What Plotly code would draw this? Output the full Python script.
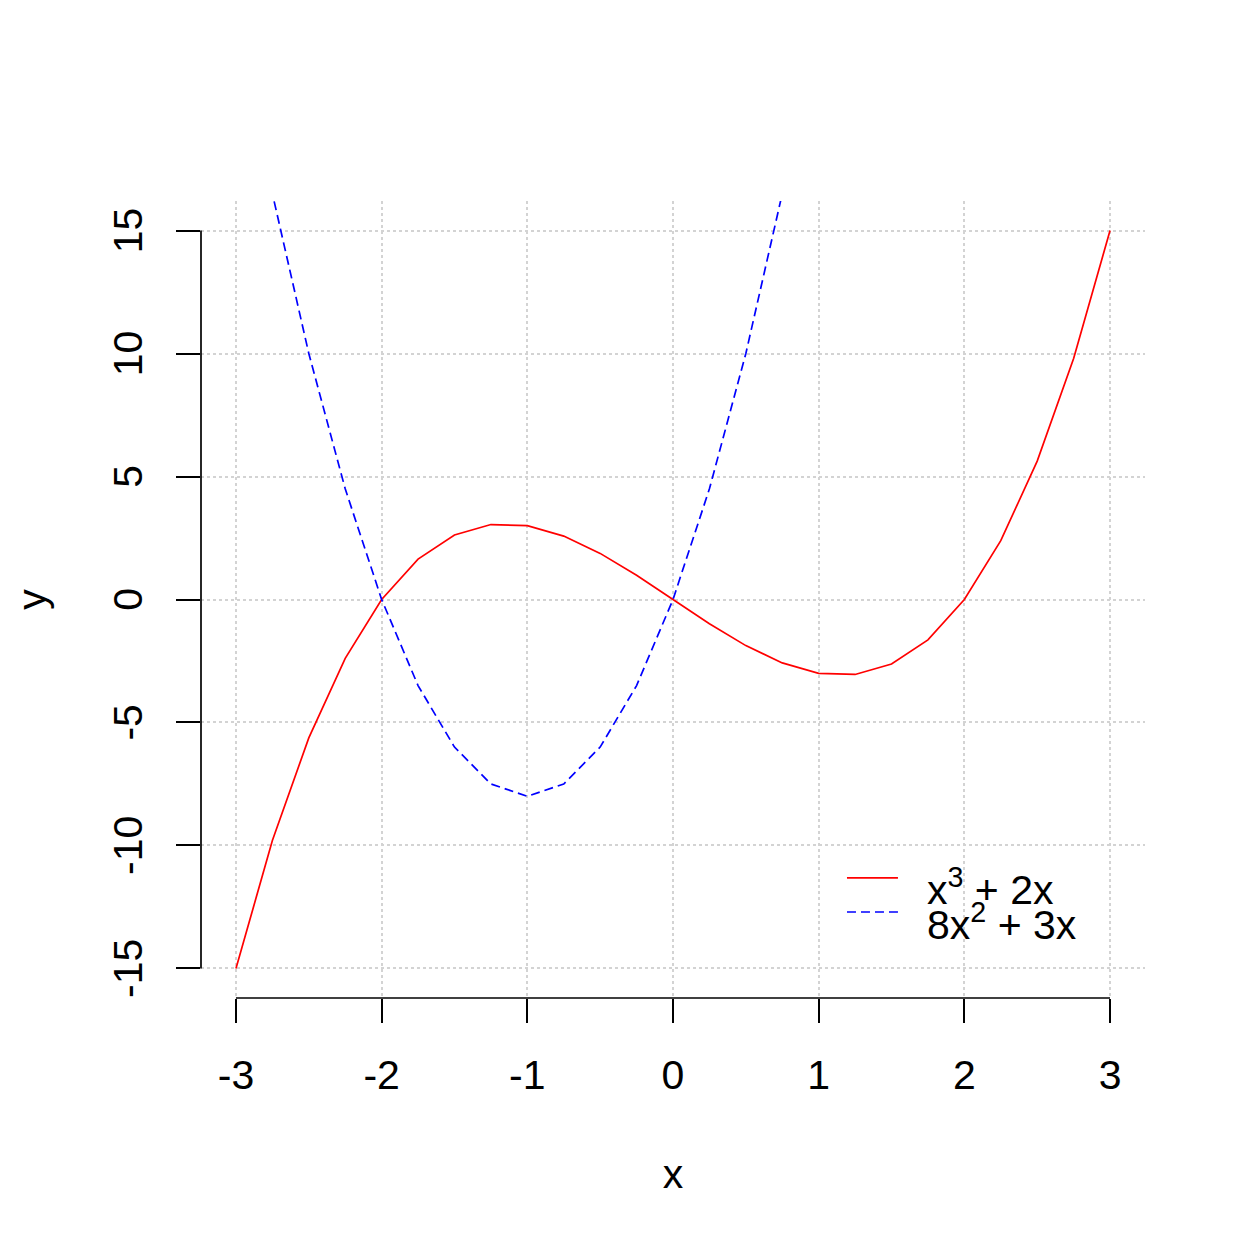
import plotly.graph_objects as go

x_vals = [-3, -2.75, -2.5, -2.25, -2, -1.75, -1.5, -1.25, -1, -0.75, -0.5, -0.25, 0,
          0.25, 0.5, 0.75, 1, 1.25, 1.5, 1.75, 2, 2.25, 2.5, 2.75, 3]
red_vals = [-15, -9.797, -5.625, -2.391, 0, 1.641, 2.625, 3.047, 3, 2.578, 1.875, 0.984, 0,
            -0.984, -1.875, -2.578, -3, -3.047, -2.625, -1.641, 0, 2.391, 5.625, 9.797, 15]
blue_vals = [24, 16.5, 10, 4.5, 0, -3.5, -6, -7.5, -8, -7.5, -6, -3.5, 0,
             4.5, 10, 16.5, 24, 32.5, 42, 52.5, 64, 76.5, 90, 104.5, 120]
x_ticks = [-3, -2, -1, 0, 1, 2, 3]
y_ticks = [-15, -10, -5, 0, 5, 10, 15]
red_label = "x<sup>3</sup> + 2x"
blue_label = "8x<sup>2</sup> + 3x"

FONT = "Liberation Sans, Arial, sans-serif"
FS = 41
RED = "#FF0000"
BLUE = "#0000FF"
BLUE_DASH = "9px,5px"

fig = go.Figure()
fig.add_trace(go.Scatter(x=x_vals, y=red_vals, mode="lines", name=red_label,
                         line=dict(color=RED, width=1.7), showlegend=False))
fig.add_trace(go.Scatter(x=x_vals, y=blue_vals, mode="lines", name=blue_label,
                         line=dict(color=BLUE, width=1.7, dash=BLUE_DASH), showlegend=False))

xr = [-3.24, 3.24]
yr = [-16.2, 16.2]

fig.update_layout(
    width=1250, height=1250,
    margin=dict(l=201, r=105, t=201, b=252, autoexpand=False),
    paper_bgcolor="white", plot_bgcolor="white",
    font=dict(family=FONT, size=FS, color="black"),
    showlegend=False,
    xaxis=dict(range=xr, tickvals=x_ticks, ticktext=[str(v) for v in x_ticks],
               showline=False, zeroline=False, showgrid=True,
               gridcolor="#D3D3D3", gridwidth=1.5, griddash="3px,3px",
               ticks="outside", ticklen=24, tickwidth=1.7, tickcolor="black",
               ticklabelstandoff=17,
               title=dict(text="x", standoff=62, font=dict(size=FS))),
    yaxis=dict(range=yr, tickvals=y_ticks, ticktext=[str(v) for v in y_ticks],
               showline=False, zeroline=False, showgrid=True,
               gridcolor="#D3D3D3", gridwidth=1.5, griddash="3px,3px",
               ticks="outside", ticklen=24, tickwidth=1.7, tickcolor="black",
               tickangle=-90, ticklabelstandoff=18, ticklabelshift=6,
               title=dict(text="y", standoff=45, font=dict(size=FS))),
)

# axis lines spanning first to last tick (R style)
fig.add_shape(type="line", xref="x", yref="paper", x0=x_ticks[0], x1=x_ticks[-1], y0=0, y1=0,
              line=dict(color="black", width=1.7), layer="above")
fig.add_shape(type="line", xref="paper", yref="y", x0=0, x1=0, y0=y_ticks[0], y1=y_ticks[-1],
              line=dict(color="black", width=1.7), layer="above")

# legend (R style, no box)
leg_rows = [(red_label, RED, "solid", 0.1506, 0.139), (blue_label, BLUE, BLUE_DASH, 0.1079, 0.095)]
for label, col, dash, ly, ty in leg_rows:
    fig.add_shape(type="line", xref="paper", yref="paper", x0=0.6843, x1=0.7383, y0=ly, y1=ly,
                  line=dict(color=col, width=1.7, dash=dash))
    fig.add_annotation(xref="paper", yref="paper", x=0.7669, y=ty, xanchor="left", yanchor="middle",
                       text=label, showarrow=False, font=dict(size=FS, family=FONT, color="black"))

fig.write_html("out.html")
